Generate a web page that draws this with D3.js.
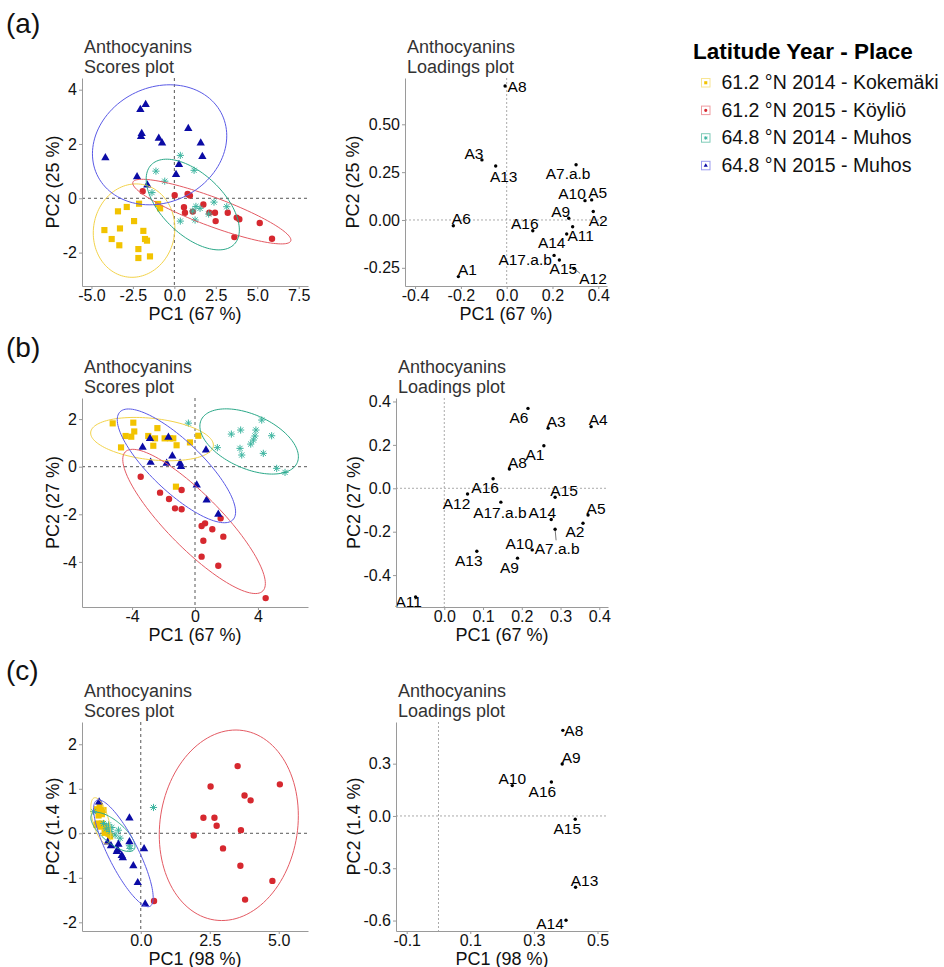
<!DOCTYPE html>
<html><head><meta charset="utf-8">
<script src="https://cdn.jsdelivr.net/npm/d3@7"></script>
<style>body{margin:0;background:#fff}svg{display:block;font-family:"Liberation Sans",Arial,Helvetica,sans-serif}</style>
</head><body><svg id="chart" width="944" height="967"></svg>
<script>
// ---------------- DATA ----------------
const groupNames = ["61.2 °N 2014 - Kokemäki", "61.2 °N 2015 - Köyliö", "64.8 °N 2014 - Muhos", "64.8 °N 2015 - Muhos"];

// (a) scores [PC1, PC2]
const aKok = [[-2.13,-0.20],[-0.98,-0.21],[-0.86,-0.37],[-3.40,-0.48],[-2.87,-0.32],[-2.43,-0.84],[-4.22,-1.17],[-3.28,-1.11],[-3.78,-1.50],[-1.87,-1.20],[-3.32,-1.73],[-1.77,-1.50],[-1.65,-1.56],[-2.17,-1.87],[-2.17,-2.20],[-1.47,-2.14]];
const aKoy = [[-1.91,0.26],[0.02,0.11],[0.80,0.16],[0.94,0.10],[0.58,-0.33],[0.64,-0.53],[1.75,-0.23],[1.11,-0.49],[2.11,-0.53],[2.45,-0.53],[2.49,-0.84],[3.22,-0.53],[3.76,-0.71],[3.92,-0.77],[3.62,-1.43],[5.15,-0.91],[5.89,-1.49]];
const aMuh14 = [[0.36,1.58],[-1.11,1.00],[1.19,1.03],[-0.58,0.63],[-1.35,0.21],[2.39,-0.14],[3.16,-0.31],[1.55,-0.37],[1.11,-0.47],[2.07,-0.58],[1.25,-0.80],[0.36,-0.84],[1.30,-0.30]];
const aMuh15 = [[-1.73,3.45],[-2.05,3.27],[-4.16,1.49],[-1.97,2.38],[-2.01,2.27],[-0.94,2.21],[-0.74,2.03],[0.84,2.57],[1.59,2.03],[1.69,1.54],[0.28,1.24],[0.10,0.87],[-2.25,0.79],[-1.63,0.49]];
// ellipses [cx, cy, halfWidthX, halfHeightY, correlation]
const aEllipses = [[-2.43,-1.19,2.46,1.72,0.05],[2.26,-0.49,4.77,1.19,-0.88],[1.11,-0.23,2.81,1.67,-0.56],[-0.89,1.97,4.05,2.21,0.15]];

// (b) scores
const bKok = [[-5.23,1.82],[-3.92,1.85],[-4.41,1.29],[-4.05,1.26],[-3.86,1.48],[-4.70,0.81],[-2.97,1.29],[-2.65,0.88],[-2.54,1.19],[-2.39,1.62],[-1.93,1.19],[-1.38,1.19],[-1.59,1.19],[-1.17,0.90],[-0.32,1.02],[0.21,1.30],[-1.21,-0.84]];
const bKoy = [[-3.45,-0.42],[-2.22,-1.09],[-1.65,-1.36],[-0.85,-0.98],[-1.27,-1.75],[-0.85,-1.79],[1.63,-2.17],[0.64,-2.38],[0.42,-2.49],[1.10,-2.63],[1.80,-2.94],[0.53,-3.11],[0.42,-3.78],[1.48,-4.16],[4.49,-5.52]];
const bMuh14 = [[-0.42,1.83],[1.42,0.80],[2.31,1.37],[2.90,1.54],[3.87,1.54],[4.24,1.96],[4.87,1.30],[3.81,1.29],[3.71,1.12],[3.54,0.95],[2.86,0.77],[2.97,0.49],[4.34,0.56],[5.19,-0.07],[5.72,-0.24]];
const bMuh15 = [[-2.86,1.18],[-1.69,1.23],[-3.33,0.81],[-1.44,0.45],[-2.82,0.18],[-1.80,0.14],[-0.95,0.14],[-0.89,0.00],[0.70,0.70],[0.11,-0.77],[0.74,-1.40],[1.48,-2.00]];
const bEllipses = [[-2.73,1.16,3.90,0.91,-0.28],[-0.06,-2.30,4.53,3.03,-0.86],[3.44,1.06,3.13,1.37,-0.47],[-1.18,0.035,3.76,2.39,-0.81]];

// (c) scores
const cKok = [[-1.59,0.54],[-1.47,0.50],[-1.35,0.52],[-1.41,0.43],[-1.53,0.40],[-1.61,0.19],[-1.47,0.15],[-1.33,0.16],[-1.25,0.04],[-1.17,-0.01],[-1.31,0.01],[-1.11,-0.07],[-1.57,0.22],[-1.41,0.22],[-1.23,0.09],[-1.49,0.61]];
const cKoy = [[3.51,1.51],[2.53,1.05],[5.04,1.10],[3.76,0.85],[3.98,0.74],[2.27,0.35],[2.67,0.35],[2.75,0.17],[3.63,0.07],[1.92,-0.05],[2.98,-0.34],[3.61,-0.73],[4.77,-1.07],[3.78,-1.49],[0.48,-1.52]];
const cMuh14 = [[0.46,0.58],[-1.71,0.49],[-1.35,0.22],[-1.17,0.19],[-1.05,0.13],[-0.81,0.07],[-0.75,-0.11],[-0.39,-0.34],[-0.41,-0.28],[-1.11,0.04],[-0.93,-0.04],[-1.25,0.10]];
const cMuh15 = [[-1.51,0.70],[-0.41,0.34],[-1.08,-0.28],[-0.81,-0.25],[-0.84,-0.37],[-0.87,-0.41],[-0.41,-0.19],[-0.69,-0.50],[-0.65,-0.55],[0.12,-0.35],[-0.27,-0.73],[-0.11,-1.11],[0.16,-1.59],[-1.20,-0.20]];
const cEllipses = [[-1.45,0.28,0.36,0.52,-0.57],[3.19,0.18,2.52,2.14,0.10],[-1.01,0.03,0.80,0.44,-0.73],[-0.63,-0.45,1.08,1.20,-0.83]];

// loadings
const aLoadNames = ["A8","A3","A13","A7.a.b","A10","A5","A2","A9","A6","A16","A11","A14","A17.a.b","A15","A12","A1"];
const aLoadPC1 = [-0.007,-0.108,-0.048,0.303,0.342,0.371,0.378,0.271,-0.233,0.114,0.288,0.262,0.207,0.230,0.294,-0.211];
const aLoadPC2 = [0.700,0.314,0.282,0.289,0.101,0.105,0.044,0.009,-0.030,-0.056,-0.035,-0.073,-0.185,-0.209,-0.253,-0.296];

const bLoadNames = ["A6","A3","A4","A1","A8","A16","A12","A15","A17.a.b","A5","A14","A2","A7.a.b","A10","A13","A9","A11"];
const bLoadPC1 = [0.216,0.268,0.379,0.257,0.168,0.126,0.060,0.286,0.146,0.371,0.276,0.358,0.286,0.227,0.084,0.189,-0.074];
const bLoadPC2 = [0.368,0.277,0.284,0.196,0.089,0.044,-0.026,-0.041,-0.064,-0.123,-0.144,-0.161,-0.189,-0.284,-0.290,-0.322,-0.501];

const cLoadNames = ["A8","A9","A10","A16","A15","A13","A14"];
const cLoadPC1 = [0.391,0.389,0.232,0.355,0.430,0.431,0.401];
const cLoadPC2 = [0.491,0.298,0.174,0.195,-0.019,-0.409,-0.598];

// tick values
const aScoreXTicks = [-5,-2.5,0,2.5,5,7.5], aScoreYTicks = [-2,0,2,4];
const aLoadXTicks = [-0.4,-0.2,0,0.2,0.4], aLoadYTicks = [-0.25,0,0.25,0.5];
const bScoreXTicks = [-4,0,4], bScoreYTicks = [-4,-2,0,2];
const bLoadXTicks = [0,0.1,0.2,0.3,0.4], bLoadYTicks = [-0.4,-0.2,0,0.2,0.4];
const cScoreXTicks = [0,2.5,5], cScoreYTicks = [-2,-1,0,1,2];
const cLoadXTicks = [-0.1,0.1,0.3,0.5], cLoadYTicks = [-0.6,-0.3,0,0.3];

// ---------------- STYLE / LAYOUT ----------------
const pointColors = ["#F2C300","#D6282F","#3DB5A0","#0B0BA5"];
const ellipseColors = ["#F3D34A","#E45A63","#2AA888","#5A5AE6"];
const FONT = '"Liberation Sans",Arial,Helvetica,sans-serif';

// label offsets [dx, dy] of text centre from the dot (px), optional leader end
const aLabelOff = {"A8":[12,0],"A3":[-8,-6],"A13":[8,10],"A7.a.b":[-8,9],"A10":[-13,-7],"A5":[6,-7],"A2":[5,9],"A9":[-8,-7],"A6":[8,-7],"A16":[-8,-7],"A11":[8,9],"A14":[-15,8],"A17.a.b":[-29,4],"A15":[4,8],"A12":[19,10],"A1":[9,-7]};
const bLabelOff = {"A6":[-9,9],"A3":[8,-7],"A4":[7,-7],"A1":[-9,9],"A8":[8,-7],"A16":[-8,9],"A12":[-11,9],"A15":[9,-7],"A17.a.b":[-1,10],"A5":[8,-7],"A14":[-9,-7],"A2":[-8,8],"A7.a.b":[2,19],"A10":[-13,-7],"A13":[-8,9],"A9":[-8,9],"A11":[-7,4]};
const cLabelOff = {"A8":[11,0],"A9":[9,-7],"A10":[0,-7],"A16":[-9,9],"A15":[-8,9],"A13":[9,-7],"A14":[-16,3]};
const aLeaders = {"A12":[6,5]};
const bLeaders = {"A7.a.b":[1,11]};

const svg = d3.select("#chart");
const fmt = (f) => (d) => d3.format(f)(d).replace("\u2212","-");

function makeAxes(g, x, y, xt, yt, xf, yf, box, xTitle, yTitle, yTitleX) {
  const xa = g.append("g").attr("transform",`translate(0,${box.y1})`)
    .call(d3.axisBottom(x).tickValues(xt).tickFormat(fmt(xf)).tickSize(3).tickSizeOuter(0).tickPadding(1));
  const ya = g.append("g").attr("transform",`translate(${box.x0},0)`)
    .call(d3.axisLeft(y).tickValues(yt).tickFormat(fmt(yf)).tickSize(3).tickSizeOuter(0).tickPadding(2));
  [xa, ya].forEach(a => {
    a.select(".domain").attr("stroke","#9a9a9a").attr("stroke-width",1);
    a.selectAll(".tick line").attr("stroke","#9a9a9a");
    a.selectAll("text").attr("fill","#111").style("font-size","16px").style("font-family",FONT);
  });
  g.append("text").attr("x",(box.x0+box.x1)/2).attr("y",box.y1+33.5).attr("text-anchor","middle")
    .style("font-size","18px").attr("fill","#111").text(xTitle);
  g.append("text").attr("transform",`translate(${yTitleX},${(box.y0+box.y1)/2}) rotate(-90)`)
    .attr("text-anchor","middle").attr("dy","0.35em").style("font-size","18px").attr("fill","#111").text(yTitle);
}

function titles(g, box, line2) {
  g.append("text").attr("x",box.x0+2).attr("y",box.y0-25).style("font-size","18px").attr("fill","#333").text("Anthocyanins");
  g.append("text").attr("x",box.x0+2).attr("y",box.y0-5).style("font-size","18px").attr("fill","#333").text(line2);
}

function refLines(g, x, y, box, color, dash) {
  g.append("line").attr("x1",box.x0).attr("x2",box.x1).attr("y1",y(0)).attr("y2",y(0))
    .attr("stroke",color).attr("stroke-dasharray",dash).attr("stroke-width",0.9);
  g.append("line").attr("x1",x(0)).attr("x2",x(0)).attr("y1",box.y0).attr("y2",box.y1)
    .attr("stroke",color).attr("stroke-dasharray",dash).attr("stroke-width",0.9);
}

function symbolPath(k, s) {
  if (k === 0) return d3.symbol(d3.symbolSquare, 38*s*s)();
  if (k === 1) return d3.symbol(d3.symbolCircle, 32*s*s)();
  if (k === 2) { const r = 3.6*s, d = r*0.72;
    return `M${-r},0L${r},0M0,${-r}L0,${r}M${-d},${-d}L${d},${d}M${-d},${d}L${d},${-d}`; }
  return d3.symbol(d3.symbolTriangle, 30*s*s)();
}
function drawSymbol(g, k, px, py, s) {
  const p = g.append("path").attr("d", symbolPath(k, s)).attr("transform",`translate(${px},${py})`);
  if (k === 2) p.attr("fill","none").attr("stroke",pointColors[k]).attr("stroke-width",1);
  else p.attr("fill",pointColors[k]);
  return p;
}

function ellipsePts(e) {
  const [cx, cy, A, B, rho] = e; const phi = Math.acos(rho);
  return d3.range(0, 121).map(i => { const t = i/120*2*Math.PI; return [cx + A*Math.cos(t), cy + B*Math.cos(t - phi)]; });
}

function scoresPanel(box, xd, yd, groups, ellipses, xt, yt, xf, yf, xTitle, yTitle) {
  const g = svg.append("g");
  const x = d3.scaleLinear().domain(xd).range([box.x0, box.x1]);
  const y = d3.scaleLinear().domain(yd).range([box.y1, box.y0]);
  refLines(g, x, y, box, "#444", "3,3");
  groups.forEach((pts, k) => pts.forEach(p => drawSymbol(g, k, x(p[0]), y(p[1]), 1)));
  const line = d3.line().x(d => x(d[0])).y(d => y(d[1])).curve(d3.curveLinearClosed);
  ellipses.forEach((e, k) => g.append("path").attr("d", line(ellipsePts(e)))
    .attr("fill","none").attr("stroke",ellipseColors[k]).attr("stroke-width",1));
  makeAxes(g, x, y, xt, yt, xf, yf, box, xTitle, yTitle, box.x0 - 29);
  titles(g, box, "Scores plot");
}

function loadingsPanel(box, xd, yd, names, pc1, pc2, offs, leaders, xt, yt, xf, yf, xTitle, yTitle, yTitleX) {
  const g = svg.append("g");
  const x = d3.scaleLinear().domain(xd).range([box.x0, box.x1]);
  const y = d3.scaleLinear().domain(yd).range([box.y1, box.y0]);
  refLines(g, x, y, box, "#a0a0a0", "2,2");
  names.forEach((n, i) => {
    const px = x(pc1[i]), py = y(pc2[i]);
    if (leaders[n]) g.append("line").attr("x1",px).attr("y1",py).attr("x2",px+leaders[n][0]).attr("y2",py+leaders[n][1])
      .attr("stroke","#555").attr("stroke-width",0.8);
    g.append("circle").attr("cx",px).attr("cy",py).attr("r",1.7).attr("fill","#000");
    const o = offs[n] || [0,-8];
    g.append("text").attr("x",px+o[0]).attr("y",py+o[1]).attr("dy","0.36em").attr("text-anchor","middle")
      .style("font-size","15.5px").attr("fill","#000").text(n);
  });
  makeAxes(g, x, y, xt, yt, xf, yf, box, xTitle, yTitle, yTitleX);
  titles(g, box, "Loadings plot");
}

// panel boxes (pixel layout)
const boxAS = {x0:82,x1:308,y0:78,y1:286}, boxAL = {x0:405,x1:607,y0:78,y1:286};
const boxBS = {x0:82,x1:308,y0:398,y1:607}, boxBL = {x0:396,x1:608,y0:398,y1:607};
const boxCS = {x0:82,x1:308,y0:722,y1:931}, boxCL = {x0:396,x1:608,y0:722,y1:931};

scoresPanel(boxAS, [-5.57,8.06], [-3.23,4.43], [aKok,aKoy,aMuh14,aMuh15], aEllipses, aScoreXTicks, aScoreYTicks, ".1f", "d", "PC1 (67 %)", "PC2 (25 %)");
loadingsPanel(boxAL, [-0.444,0.438], [-0.345,0.742], aLoadNames, aLoadPC1, aLoadPC2, aLabelOff, aLeaders, aLoadXTicks, aLoadYTicks, ".1f", ".2f", "PC1 (67 %)", "PC2 (25 %)", 353);
scoresPanel(boxBS, [-7.18,7.18], [-5.895,2.886], [bKok,bKoy,bMuh14,bMuh15], bEllipses, bScoreXTicks, bScoreYTicks, "d", "d", "PC1 (67 %)", "PC2 (27 %)");
loadingsPanel(boxBL, [-0.1246,0.4225], [-0.547,0.416], bLoadNames, bLoadPC1, bLoadPC2, bLabelOff, bLeaders, bLoadXTicks, bLoadYTicks, ".1f", ".1f", "PC1 (67 %)", "PC2 (27 %)", 354);
scoresPanel(boxCS, [-2.13,6.06], [-2.195,2.50], [cKok,cKoy,cMuh14,cMuh15], cEllipses, cScoreXTicks, cScoreYTicks, ".1f", "d", "PC1 (98 %)", "PC2 (1.4 %)");
loadingsPanel(boxCL, [-0.1336,0.533], [-0.660,0.539], cLoadNames, cLoadPC1, cLoadPC2, cLabelOff, {}, cLoadXTicks, cLoadYTicks, ".1f", ".1f", "PC1 (98 %)", "PC2 (1.4 %)", 354);

// panel tags
[["(a)",33],["(b)",357],["(c)",680]].forEach(([t, yy]) =>
  svg.append("text").attr("x",6).attr("y",yy).style("font-size","28px").attr("fill","#111").text(t));

// legend
const lg = svg.append("g");
lg.append("text").attr("x",693).attr("y",59).style("font-size","22.5px").style("font-weight","bold").attr("fill","#000").text("Latitude Year - Place");
groupNames.forEach((n, k) => {
  const yy = 89 + k*27.6;
  lg.append("rect").attr("x",701.5).attr("y",yy-10.5).attr("width",8.5).attr("height",8.5)
    .attr("fill","#fff").attr("stroke",ellipseColors[k]).attr("stroke-opacity",0.6).attr("stroke-width",1);
  drawSymbol(lg, k, 705.75, yy-6.25, 0.5);
  lg.append("text").attr("x",721.5).attr("y",yy).style("font-size","19.5px").attr("fill","#111").text(n);
});
</script>
</body></html>
